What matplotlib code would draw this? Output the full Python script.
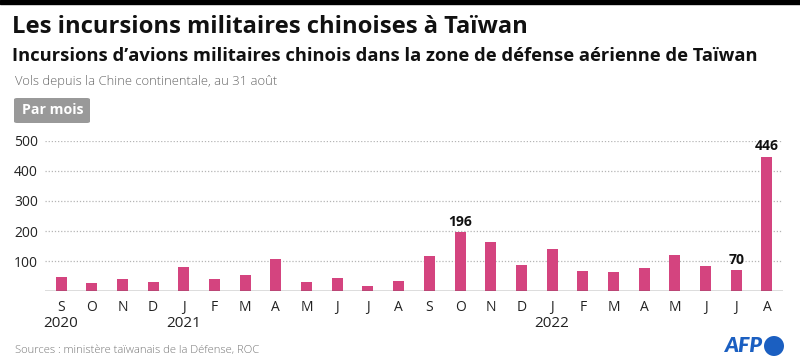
import matplotlib
matplotlib.use("Agg")
import matplotlib.pyplot as plt
from matplotlib.patches import FancyBboxPatch, Ellipse, Rectangle

months = ["S", "O", "N", "D", "J", "F", "M", "A", "M", "J", "J", "A",
          "S", "O", "N", "D", "J", "F", "M", "A", "M", "J", "J", "A"]
values = [46, 27, 40, 32, 81, 40, 54, 107, 30, 43, 18, 34,
          116, 196, 163, 87, 141, 69, 63, 76, 119, 84, 70, 446]
years = {0: "2020", 4: "2021", 16: "2022"}
annotated = [13, 22, 23]
yticks = [100, 200, 300, 400, 500]

W, H = 800, 363
REG = ['Open Sans', 'DejaVu Sans']
plt.rcParams['font.family'] = REG
fig = plt.figure(figsize=(8, 3.63), dpi=100)
renderer = fig.canvas.get_renderer()

def fx(x): return x / W
def fy(y): return 1 - y / H

def fit_text(x, y, s, width_px, size, **kw):
    t = fig.text(fx(x), fy(y), s, fontsize=size, **kw)
    for _ in range(3):
        w = t.get_window_extent(renderer=renderer).width
        t.set_fontsize(t.get_fontsize() * width_px / w)
    return t

# top black band
fig.patches.append(Rectangle((0, fy(4)), 1, 4 / H, transform=fig.transFigure,
                             color="black", zorder=5))

fit_text(12, 27, "Les incursions militaires chinoises à Taïwan", 516, 18,
         fontweight="bold", va="center", ha="left", color="#111111")
fit_text(12, 56, "Incursions d’avions militaires chinois dans la zone de défense aérienne de Taïwan",
         743, 13, fontweight="bold", va="center", ha="left", color="#111111")
fit_text(15, 82, "Vols depuis la Chine continentale, au 31 août", 263, 9,
         fontweight="light", va="center", ha="left", color="#666666")

# "Par mois" box
box = FancyBboxPatch((fx(14), fy(123)), (90 - 14) / W, (123 - 98) / H,
                     boxstyle="round,pad=0,rounding_size=0.004",
                     transform=fig.transFigure, facecolor="#999999", edgecolor="none")
fig.patches.append(box)
fit_text(52.5, 110, "Par mois", 61, 10, fontweight="bold",
         color="white", ha="center", va="center")

# axes
x_left, x_right = 45, 783
y_base, y_top = 291.3, 140.7
ax = fig.add_axes([fx(x_left), fy(y_base), (x_right - x_left) / W, (y_base - y_top) / H])
step = (767 - 61) / 23
ax.set_xlim(-(61 - x_left) / step, 23 + (x_right - 767) / step)
ax.set_ylim(0, 500)

xs = list(range(len(values)))
ax.bar(xs, values, width=11 / step, color="#d4447f", zorder=3)

for t in yticks:
    ax.axhline(t, color="#b5b5b5", linewidth=0.9, linestyle=(0, (1, 1.5)), zorder=1)
ax.axhline(0, color="#555555", linewidth=1.0, zorder=4)

for i in annotated:
    ax.text(i, values[i] + 12, str(values[i]), ha="center", va="bottom",
            fontsize=10, fontweight="bold", color="#111111")

for s in ax.spines.values():
    s.set_visible(False)
ax.set_yticks(yticks)
ax.set_yticklabels([str(t) for t in yticks], fontsize=10, color="#222222")
ax.tick_params(axis="y", length=0, pad=5)
ax.set_xticks(xs)
ax.set_xticklabels(months, fontsize=10, color="#222222")
ax.tick_params(axis="x", length=0, pad=6)

for i, y in years.items():
    ax.text(i, -0.165, y, transform=ax.get_xaxis_transform(), ha="center",
            va="top", fontsize=11, color="#222222")

fit_text(15, 351, "Sources : ministère taïwanais de la Défense, ROC", 244, 9,
         fontweight="light", va="center", ha="left", color="#777777")

# AFP logo
fit_text(763, 346, "AFP", 38, 12, fontweight="heavy", style="italic",
         color="#1b5fc1", ha="right", va="center", family=['Lato', 'DejaVu Sans'])
fig.patches.append(Ellipse((fx(774), fy(346)), 20 / W, 20 / H, transform=fig.transFigure,
                           facecolor="#1b5fc1", edgecolor="none"))

fig.savefig("out.png", dpi=100)
